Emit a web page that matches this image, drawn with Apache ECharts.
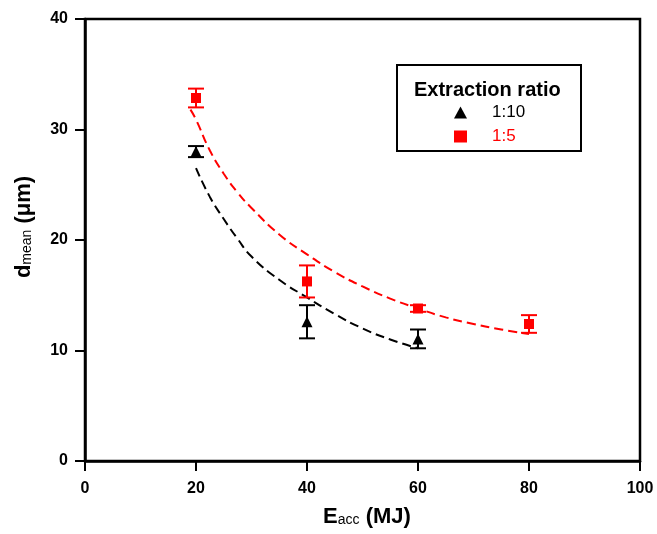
<html lang="en">
<head>
	<meta charset="UTF-8">
	<title></title>
	<style>
		html, body { margin: 0; padding: 0; background: #fff; }
		#chart { width: 657px; height: 534px; }
	</style>
</head>
<body>
	<div id="chart"></div>
	<script type="text/javascript" src="https://cdn.jsdelivr.net/npm/echarts@6/dist/echarts.min.js"></script>
	<script type="text/javascript">
		// measured points (E_acc in MJ, d_mean in um) with error half-widths
		var x110 = [20, 40, 60]
		var mean110 = [28.0, 12.6, 11.05]
		var err110 = [0.5, 1.5, 0.85]
		var x15 = [20, 40, 60, 80]
		var mean15 = [32.85, 16.25, 13.8, 12.4]
		var err15 = [0.85, 1.45, 0.3, 0.8]
		// dashed fit curves
		var fitX110 = [20, 22.5, 25, 27.5, 30, 35, 40, 45, 50, 55, 60]
		var fitY110 = [26.5, 23.9, 21.9, 20.1, 18.5, 16.4, 14.8, 13.3, 12.0, 11.0, 10.2]
		var fitX15 = [19, 20, 22.5, 25, 27.5, 30, 35, 40, 45, 50, 55, 60, 65, 70, 75, 80]
		var fitY15 = [31.8, 30.9, 28.1, 26.0, 24.3, 22.9, 20.5, 18.7, 17.1, 15.8, 14.7, 13.8, 13.0, 12.4, 11.9, 11.5]
		var legendNames = ['1:10', '1:5']

		var RED = '#ff0000'
		var FONT = 'Arial, "Liberation Sans", sans-serif'

		function zip(xs, ys) {
			return xs.map(function (x, i) { return [x, ys[i]] })
		}
		function errData(xs, ms, es) {
			return xs.map(function (x, i) { return [x, ms[i] - es[i], ms[i] + es[i]] })
		}
		// vertical error bar with caps
		function renderErr(color) {
			return function (params, api) {
				var lo = api.coord([api.value(0), api.value(1)])
				var hi = api.coord([api.value(0), api.value(2)])
				var w = 8
				var st = { stroke: color, lineWidth: 2 }
				return {
					type: 'group',
					children: [
						{ type: 'line', shape: { x1: lo[0], y1: lo[1], x2: hi[0], y2: hi[1] }, style: st },
						{ type: 'line', shape: { x1: lo[0] - w, y1: lo[1], x2: lo[0] + w, y2: lo[1] }, style: st },
						{ type: 'line', shape: { x1: hi[0] - w, y1: hi[1], x2: hi[0] + w, y2: hi[1] }, style: st }
					]
				}
			}
		}

		var chart = echarts.init(document.getElementById('chart'))
		var option = {
			backgroundColor: '#fff',
			animation: false,
			grid: {
				left: 85, right: 17, top: 19, bottom: 73,
				show: true, borderColor: '#000', borderWidth: 2.5
			},
			xAxis: {
				type: 'value', min: 0, max: 100, interval: 20,
				splitLine: { show: false },
				axisLine: { lineStyle: { color: '#000', width: 2.5 } },
				axisTick: { length: 10, lineStyle: { width: 2 } },
				axisLabel: { margin: 20, fontSize: 16, fontWeight: 'bold', color: '#000', fontFamily: FONT },
				name: '{b|E}{s|acc}{b| (MJ)}',
				nameLocation: 'middle',
				nameGap: 45,
				nameTextStyle: {
					padding: [0, 0, 0, 9],
					rich: {
						b: { fontSize: 22, fontWeight: 'bold', color: '#000', fontFamily: FONT, verticalAlign: 'bottom' },
						s: { fontSize: 14, color: '#000', fontFamily: FONT, verticalAlign: 'bottom', padding: [0, 0, 1, 0] }
					}
				}
			},
			yAxis: {
				type: 'value', min: 0, max: 40, interval: 10,
				splitLine: { show: false },
				axisLine: { lineStyle: { color: '#000', width: 2.5 } },
				axisTick: { show: true, length: 10, lineStyle: { width: 2 } },
				axisLabel: { margin: 17, fontSize: 16, fontWeight: 'bold', color: '#000', fontFamily: FONT },
				name: '{b|d}{s|mean}{b| (μm)}',
				nameLocation: 'middle',
				nameGap: 50,
				nameTextStyle: {
					padding: [0, 0, 0, 26],
					rich: {
						b: { fontSize: 22, fontWeight: 'bold', color: '#000', fontFamily: FONT, verticalAlign: 'bottom' },
						s: { fontSize: 14, color: '#000', fontFamily: FONT, verticalAlign: 'bottom', padding: [0, 0, 1, 0] }
					}
				}
			},
			legend: {
				data: [
					{ name: legendNames[0], icon: 'triangle', textStyle: { color: '#000' } },
					{ name: legendNames[1], icon: 'rect', textStyle: { color: RED } }
				],
				orient: 'vertical',
				left: 449, top: 99,
				itemWidth: 13, itemHeight: 12,
				itemGap: 7,
				textStyle: { fontSize: 17, fontFamily: FONT, padding: [0, 0, 0, 20], lineHeight: 16 }
			},
			graphic: [
				{
					type: 'rect', left: 396, top: 64,
					shape: { width: 184, height: 86 },
					style: { fill: '#fff', stroke: '#000', lineWidth: 2 },
					z: 0
				},
				{
					type: 'text', left: 414, top: 80,
					style: { text: 'Extraction ratio', fill: '#000', font: 'bold 20px ' + FONT },
					z: 1
				}
			],
			series: [
				{
					name: '1:10 fit', type: 'line', smooth: true, showSymbol: false,
					data: zip(fitX110, fitY110),
					lineStyle: { color: '#000', width: 2, type: [9, 5] }, z: 2
				},
				{
					name: '1:5 fit', type: 'line', smooth: true, showSymbol: false,
					data: zip(fitX15, fitY15),
					lineStyle: { color: RED, width: 2, type: [9, 5] }, z: 2
				},
				{
					name: '1:10 err', type: 'custom', renderItem: renderErr('#000'),
					data: errData(x110, mean110, err110), encode: { x: 0, y: [1, 2] }, z: 3
				},
				{
					name: '1:5 err', type: 'custom', renderItem: renderErr(RED),
					data: errData(x15, mean15, err15), encode: { x: 0, y: [1, 2] }, z: 3
				},
				{
					name: legendNames[0], type: 'scatter', symbol: 'triangle', symbolSize: 11,
					itemStyle: { color: '#000', opacity: 1 }, data: zip(x110, mean110), z: 4
				},
				{
					name: legendNames[1], type: 'scatter', symbol: 'rect', symbolSize: 10,
					itemStyle: { color: RED, opacity: 1 }, data: zip(x15, mean15), z: 4
				}
			]
		}
		chart.setOption(option)
	</script>
</body>
</html>
